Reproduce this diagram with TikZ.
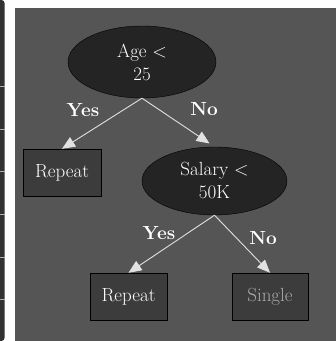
\documentclass[tikz,border=0pt]{standalone}
\usepackage{xcolor}
\usepackage{fontspec}
\usepackage{tikz}
\usetikzlibrary{shapes,arrows.meta,calc}
\definecolor{panelbg}{RGB}{85, 85, 85}
\definecolor{testfill}{RGB}{36, 36, 36}
\definecolor{leaffill}{RGB}{60, 60, 60}
\definecolor{edgeline}{RGB}{225, 225, 225}
\definecolor{dimtext}{RGB}{170, 170, 170}
\definecolor{stripbg}{RGB}{50, 50, 50}

\begin{document}
\begin{tikzpicture}[
    test/.style={ellipse, draw=black, fill=testfill, text=white, align=center,
                 inner sep=0pt, font=\fontsize{19}{23}\selectfont},
    leaf/.style={rectangle, draw=black, fill=leaffill, text=white, inner sep=0pt,
                 font=\fontsize{19}{23}\selectfont},
    branch/.style={draw=edgeline, line width=0.9pt, -{Triangle[length=13pt,width=11pt]}},
    answer/.style={text=white, font=\bfseries\fontsize{19}{23}\selectfont}
]
    \useasboundingbox (0,0) rectangle (336pt, 341pt);
    \fill[white] (0,0) rectangle (336pt, 341pt);
    % side strip
    \fill[stripbg, rounded corners=3pt] (-3pt, 0) rectangle (4.5pt, 341pt);
    \foreach \y in {41, 83, 126, 169, 211, 254}
        \draw[gray!60, line width=1pt] (0, \y pt) -- (4.5pt, \y pt);
    % panel
    \fill[panelbg] (15pt, 0) rectangle (336pt, 333pt);

    \node[test, minimum width=148pt, minimum height=72pt] (age) at (142pt, 279pt) {Age <\\25};
    \node[leaf, minimum width=78pt, minimum height=47pt] (rep1) at (62pt, 168.5pt) {Repeat};
    \node[test, minimum width=145pt, minimum height=68pt] (sal) at (214.5pt, 160pt) {Salary <\\50K};
    \node[leaf, minimum width=77pt, minimum height=47pt] (rep2) at (128.5pt, 44.5pt) {Repeat};
    \node[leaf, minimum width=76pt, minimum height=47pt, text=dimtext] (single) at (270pt, 44.5pt) {Single};

    \draw[branch] (age.south) -- (rep1.north);
    \draw[branch, shorten >=6pt] (age.south) -- (sal.north);
    \draw[branch] (sal.south) -- (rep2.north);
    \draw[branch] (sal.south) -- (single.north);

    \node[answer] (yes1) at (83pt, 231pt) {Yes};
    \node[answer] (no1) at (204pt, 232pt) {No};
    \node[answer] (yes2) at (159pt, 108pt) {Yes};
    \node[answer] (no2) at (263pt, 103pt) {No};
\end{tikzpicture}
\end{document}
